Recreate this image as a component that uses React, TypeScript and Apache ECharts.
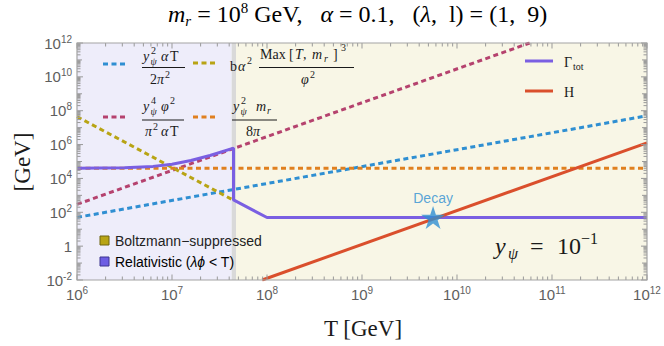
import React, { useEffect, useRef } from "react";
import * as echarts from "echarts";

// ---- data ----
const thermalT = [1e6, 1e12];
const thermalRate = [50, 5.0e7]; // y^2 alpha T / (2 pi^2)

const scatterT = [1e6, 5.82e10];
const scatterRate = [295, 1e12]; // y^4 phi^2 / (pi^2 alpha T)

const boltzT = [1e6, 4.44e7];
const boltzRate = [4.47e7, 513]; // b alpha^2 Max[T,m_r]^3 / phi^2

const decayT = [1e6, 1e12];
const decayRate = [3.98e4, 3.98e4]; // y^2 m_r / (8 pi)

const gammaT = [1e6, 3.16e6, 6.31e6, 1e7, 1.58e7, 2.51e7, 4.44e7, 4.44e7, 1e8, 1e12];
const gammaRate = [4.0e4, 4.28e4, 5.15e4, 6.93e4, 1.14e5, 2.26e5, 6.2e5, 537, 49, 49];

const hubbleT = [8.9e7, 1e12];
const hubbleRate = [1e-2, 1.26e6];

const decayPointT = [5.6e9];
const decayPointRate = [49];

const relativisticEnd = 4.25e7;
const boundaryEnd = 4.72e7;

const X_MIN = 1e6, X_MAX = 1e12, Y_MIN = 1e-2, Y_MAX = 1e12;
const xDecades = [6, 7, 8, 9, 10, 11, 12];
const yDecades = [-2, -1, 0, 1, 2, 3, 4, 5, 6, 7, 8, 9, 10, 11, 12];
const minorMults = [2, 3, 4, 5, 6, 7, 8, 9];

const C_BLUE = "#2f8fd2";
const C_OLIVE = "#b8a414";
const C_MAG = "#b5426e";
const C_ORANGE = "#e0801f";
const C_PURPLE = "#7a5fe2";
const C_RED = "#da4f2c";
const C_TICK = "#999999";
const C_LAV = "#eeedfa";
const C_BEIGE = "#f8f6e6";

const serif = '"Liberation Serif", "Times New Roman", serif';
const sans = '"Liberation Sans", Arial, sans-serif';

const zip = (a: number[], b: number[]) => a.map((v, i) => [v, b[i]]);

function txt(text: string, x: number, y: number, size: number, o: any = {}) {
  return {
    type: "text",
    x,
    y,
    silent: true,
    z: 100,
    style: {
      text,
      fill: o.color || "#1a1a1a",
      font: `${o.italic ? "italic " : ""}${size}px ${o.family || serif}`,
      textAlign: o.align || "left",
      align: o.align || "left",
      textVerticalAlign: "middle",
      verticalAlign: "middle",
    },
  };
}

function dash(x1: number, x2: number, y: number, color: string) {
  return {
    type: "line",
    silent: true,
    z: 100,
    shape: { x1, y1: y, x2, y2: y },
    style: { stroke: color, lineWidth: 3, lineDash: [5, 3.5] },
  };
}

function solid(x1: number, x2: number, y: number, color: string) {
  return {
    type: "line",
    silent: true,
    z: 100,
    shape: { x1, y1: y, x2, y2: y },
    style: { stroke: color, lineWidth: 3 },
  };
}

function bar(x1: number, x2: number, y: number) {
  return {
    type: "line",
    silent: true,
    z: 100,
    shape: { x1, y1: y, x2, y2: y },
    style: { stroke: "#1a1a1a", lineWidth: 1 },
  };
}

function yPsi(x: number, y: number, sup: string) {
  return [
    txt("y", x, y, 14, { italic: true }),
    txt(sup, x + 8, y - 6, 10),
    txt("ψ", x + 7.5, y + 5, 10, { italic: true }),
  ];
}

const supLabel = (v: number) => {
  const e = Math.round(Math.log10(v));
  if (e === 0) return "{b|1}";
  return `{b|10}{s|${e}}`;
};

const labelRich = {
  b: { fontSize: 15, fontFamily: sans, color: "#5e5e5e", lineHeight: 18 },
  s: { fontSize: 10, fontFamily: sans, color: "#5e5e5e", lineHeight: 9, verticalAlign: "top" },
};

export default function App() {
  const ref = useRef<HTMLDivElement>(null);
  useEffect(() => {
    document.body.style.margin = "0";
    const chart = echarts.init(ref.current!, null, { renderer: "svg" });

    const xTicks: number[][] = [];
    xDecades.forEach((d) => {
      xTicks.push([Math.pow(10, d), 5.5]);
      if (d < 12) minorMults.forEach((m) => xTicks.push([m * Math.pow(10, d), 3.5]));
    });
    const yTicks: number[][] = [];
    yDecades.forEach((d) => {
      yTicks.push([Math.pow(10, d), d % 2 === 0 ? 6 : 5]);
      if (d < 12) minorMults.forEach((m) => yTicks.push([m * Math.pow(10, d), 3.5]));
    });

    const tickLine = (x1: number, y1: number, x2: number, y2: number) => ({
      type: "line",
      shape: { x1, y1, x2, y2 },
      style: { stroke: C_TICK, lineWidth: 1 },
    });

    const graphic: any[] = [
      // title
      {
        type: "text",
        x: 168,
        y: 14,
        silent: true,
        style: {
          text: "{i|m}{sub|r}{n| = 10}{sup|8}{n| GeV,   }{i|α}{n| = 0.1,   (}{i|λ}{n|,  l) = (1,  9)}",
          textAlign: "left",
          align: "left",
          textVerticalAlign: "middle",
          verticalAlign: "middle",
          rich: {
            n: { fontFamily: serif, fontSize: 24, lineHeight: 28, color: "#1a1a1a" },
            i: { fontFamily: serif, fontStyle: "italic", fontSize: 24, lineHeight: 28, color: "#1a1a1a" },
            sup: { fontFamily: serif, fontSize: 15, lineHeight: 13, verticalAlign: "top", color: "#1a1a1a" },
            sub: { fontFamily: serif, fontStyle: "italic", fontSize: 15, lineHeight: 13, verticalAlign: "bottom", color: "#1a1a1a" },
          },
        },
      },
      // axis names
      txt("T [GeV]", 363, 328, 23, { align: "center" }),
      { ...txt("[GeV]", 22, 162, 23, { align: "center" }), rotation: Math.PI / 2 },

      // legend top-left
      dash(103, 126, 64, C_BLUE),
      ...yPsi(143, 56, "2"),
      txt("α", 161, 56, 14, { italic: true }),
      txt("T", 170, 56, 14),
      bar(142, 185, 67.5),
      txt("2", 150, 79, 14),
      txt("π", 157, 79, 14, { italic: true }),
      txt("2", 165, 74, 10),

      dash(193, 217, 63, C_OLIVE),
      txt("b", 230, 66, 14),
      txt("α", 238, 66, 14, { italic: true }),
      txt("2", 247, 60, 10),
      txt("Max", 260, 54, 14),
      txt("[", 289, 54, 14),
      txt("T", 295, 54, 14, { italic: true }),
      txt(",", 303, 54, 14),
      txt("m", 312, 54, 14, { italic: true }),
      txt("r", 324, 58, 10, { italic: true }),
      txt("]", 333, 54, 14),
      txt("3", 341, 47, 10),
      bar(259, 354, 67.5),
      txt("φ", 301, 79, 14, { italic: true }),
      txt("2", 310, 74, 10),

      dash(103, 126, 117, C_MAG),
      ...yPsi(143, 106, "4"),
      txt("φ", 161, 106, 14, { italic: true }),
      txt("2", 170, 100, 10),
      bar(142, 184, 120),
      txt("π", 145, 131, 14, { italic: true }),
      txt("2", 153, 126, 10),
      txt("α", 161, 131, 14, { italic: true }),
      txt("T", 170, 131, 14),

      dash(193, 217, 117, C_ORANGE),
      ...yPsi(233, 106, "2"),
      txt("m", 256, 106, 14, { italic: true }),
      txt("r", 267, 110, 10, { italic: true }),
      bar(232, 277, 120),
      txt("8", 246, 131, 14),
      txt("π", 253, 131, 14, { italic: true }),

      // legend top-right
      solid(525, 553, 61, C_PURPLE),
      txt("Γ", 564, 62, 14),
      txt("tot", 573, 66, 10),
      solid(525, 553, 91, C_RED),
      txt("H", 564, 92, 14),

      // bottom-left legend
      {
        type: "rect",
        silent: true,
        z: 100,
        shape: { x: 100, y: 236, width: 9, height: 9 },
        style: { fill: C_OLIVE, stroke: "#6e6410", lineWidth: 1 },
      },
      txt("Boltzmann−suppressed", 115, 241, 14, { family: sans, color: "#222" }),
      {
        type: "rect",
        silent: true,
        z: 100,
        shape: { x: 100, y: 257, width: 9, height: 9 },
        style: { fill: "#6d5de3", stroke: "#3d3590", lineWidth: 1 },
      },
      {
        type: "text",
        x: 115,
        y: 262,
        silent: true,
        z: 100,
        style: {
          text: "{n|Relativistic (}{i|λϕ}{n| < T)}",
          textAlign: "left",
          align: "left",
          textVerticalAlign: "middle",
          verticalAlign: "middle",
          rich: {
            n: { fontFamily: sans, fontSize: 14, color: "#222" },
            i: { fontFamily: sans, fontStyle: "italic", fontSize: 14, color: "#222" },
          },
        },
      },

      // y_psi = 10^-1
      txt("y", 495, 246, 24, { italic: true }),
      txt("ψ", 508, 253, 16, { italic: true }),
      txt("=", 530, 246, 24),
      txt("10", 557, 246, 24),
      txt("−1", 581, 238, 16),
    ];

    const option: any = {
      animation: false,
      grid: { left: 77, right: 17, top: 43, bottom: 66 },
      xAxis: {
        type: "log",
        logBase: 10,
        min: X_MIN,
        max: X_MAX,
        interval: 1,
        axisLine: { show: false },
        axisTick: { show: false },
        splitLine: { show: false },
        axisLabel: { margin: 5, formatter: supLabel, rich: labelRich },
      },
      yAxis: {
        type: "log",
        logBase: 10,
        min: Y_MIN,
        max: Y_MAX,
        interval: 2,
        axisLine: { show: false },
        axisTick: { show: false },
        splitLine: { show: false },
        axisLabel: { margin: 5, formatter: supLabel, rich: labelRich },
      },
      graphic,
      series: [
        {
          type: "line",
          z: 1,
          silent: true,
          symbol: "none",
          data: zip(decayT, decayRate),
          lineStyle: { width: 0, opacity: 0 },
          markArea: {
            silent: true,
            label: { show: false },
            data: [
              [{ xAxis: X_MIN, itemStyle: { color: C_LAV } }, { xAxis: relativisticEnd }],
              [{ xAxis: relativisticEnd, itemStyle: { color: "#d9d9d9" } }, { xAxis: boundaryEnd }],
              [{ xAxis: boundaryEnd, itemStyle: { color: C_BEIGE } }, { xAxis: X_MAX }],
            ],
          },
        },
        {
          type: "line", z: 3, symbol: "none", silent: true,
          data: zip(thermalT, thermalRate),
          lineStyle: { color: C_BLUE, width: 3, type: [5, 3.5] },
        },
        {
          type: "line", z: 3, symbol: "none", silent: true,
          data: zip(scatterT, scatterRate),
          lineStyle: { color: C_MAG, width: 3, type: [5, 3.5] },
        },
        {
          type: "line", z: 3, symbol: "none", silent: true,
          data: zip(decayT, decayRate),
          lineStyle: { color: C_ORANGE, width: 3, type: [5, 3.5] },
        },
        {
          type: "line", z: 3, symbol: "none", silent: true,
          data: zip(boltzT, boltzRate),
          lineStyle: { color: C_OLIVE, width: 3, type: [5, 3.5] },
        },
        {
          type: "line", z: 4, symbol: "none", silent: true,
          data: zip(gammaT, gammaRate),
          lineStyle: { color: C_PURPLE, width: 3 },
        },
        {
          type: "line", z: 4, symbol: "none", silent: true,
          data: zip(hubbleT, hubbleRate),
          lineStyle: { color: C_RED, width: 3 },
        },
        {
          type: "scatter", z: 6, silent: true,
          data: zip(decayPointT, decayPointRate),
          symbol:
            "path://M50,0L61.23,34.55L97.55,34.55L68.17,55.9L79.39,90.45L50,69.1L20.61,90.45L31.83,55.9L2.45,34.55L38.77,34.55Z",
          symbolKeepAspect: true,
          symbolSize: 24,
          itemStyle: { color: C_BLUE },
          label: {
            show: true,
            position: "top",
            distance: 1,
            formatter: "Decay",
            color: C_BLUE,
            fontSize: 14,
            fontFamily: sans,
          },
        },
        {
          type: "custom", z: 5, silent: true,
          data: xTicks,
          encode: { x: 0, y: 1 },
          renderItem: (params: any, api: any) => {
            const v = api.value(0);
            const len = api.value(1);
            const b = api.coord([v, Y_MIN]);
            const t = api.coord([v, Y_MAX]);
            return {
              type: "group",
              children: [tickLine(b[0], b[1], b[0], b[1] - len), tickLine(t[0], t[1], t[0], t[1] + len)],
            };
          },
        },
        {
          type: "custom", z: 5, silent: true,
          data: yTicks,
          encode: { y: 0, x: 1 },
          renderItem: (params: any, api: any) => {
            const v = api.value(0);
            const len = api.value(1);
            const l = api.coord([X_MIN, v]);
            const r = api.coord([X_MAX, v]);
            return {
              type: "group",
              children: [tickLine(l[0], l[1], l[0] + len, l[1]), tickLine(r[0], r[1], r[0] - len, r[1])],
            };
          },
        },
        {
          type: "custom", z: 5, silent: true,
          data: [[X_MIN, Y_MIN]],
          renderItem: (params: any, api: any) => {
            const a = api.coord([X_MIN, Y_MAX]);
            const b = api.coord([X_MAX, Y_MIN]);
            return {
              type: "rect",
              shape: { x: a[0], y: a[1], width: b[0] - a[0], height: b[1] - a[1] },
              style: { fill: "none", stroke: "#a3a3a3", lineWidth: 1.2 },
            };
          },
        },
      ],
    };
    chart.setOption(option);
    return () => chart.dispose();
  }, []);
  return <div ref={ref} style={{ position: "absolute", left: 0, top: 0, width: 664, height: 346 }} />;
}
